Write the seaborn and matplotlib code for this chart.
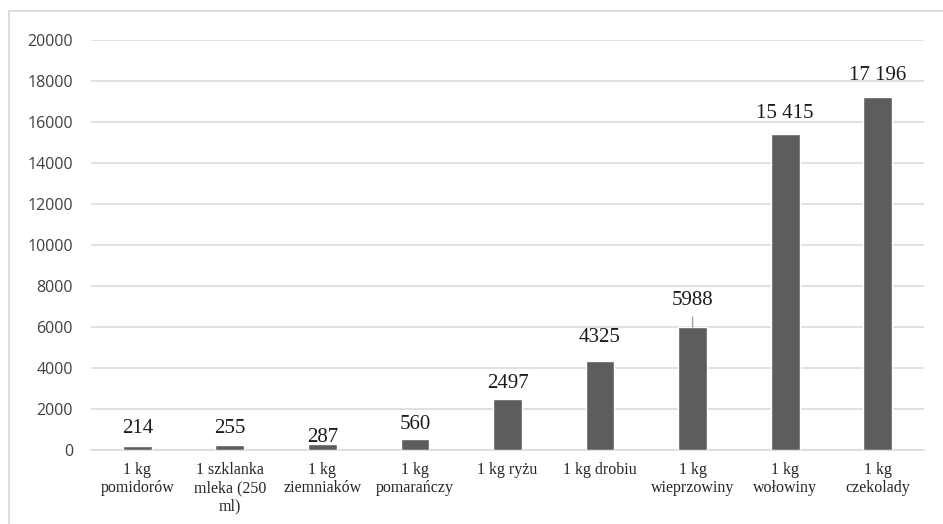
import matplotlib
matplotlib.use("Agg")
import matplotlib.pyplot as plt
from matplotlib.patches import Rectangle
import seaborn as sns
import pandas as pd

# Products (x axis) and their values
products = [
    "1 kg\npomidorów",
    "1 szklanka\nmleka (250\nml)",
    "1 kg\nziemniaków",
    "1 kg\npomarańczy",
    "1 kg ryżu",
    "1 kg drobiu",
    "1 kg\nwieprzowiny",
    "1 kg\nwołowiny",
    "1 kg\nczekolady",
]
values = [214, 255, 287, 560, 2497, 4325, 5988, 15415, 17196]
y_ticks = [0, 2000, 4000, 6000, 8000, 10000, 12000, 14000, 16000, 18000, 20000]

# Vertical gap (pixels) between each bar top and its value label
label_gaps = [13, 12, 2, 10, 11, 19, 22, 16, 17]

df = pd.DataFrame({"product": products, "value": values})

sns.set_theme(style="white")
plt.rcParams["font.family"] = ["DejaVu Sans"]

fig = plt.figure(figsize=(9.43, 5.24), dpi=100)
ax = fig.add_axes([91 / 943, 74 / 524, (924 - 91) / 943, (450 - 40) / 524])

sns.barplot(data=df, x="product", y="value", color="#5d5d5d", saturation=1,
            width=0.31, ax=ax, zorder=3)

ax.set_ylim(0, 20000)
ax.set_yticks(y_ticks)
ax.set_yticklabels([str(t) for t in y_ticks], family="Open Sans",
                   fontsize=11.5, color="#404040")
ax.set_xticks(range(len(products)))
ax.set_xticklabels(products, family="Liberation Serif", fontsize=11.5,
                   color="#262626", linespacing=1.15)
ax.tick_params(axis="y", length=0, pad=13)
ax.tick_params(axis="x", length=0, pad=9)
ax.set_xlabel("")
ax.set_ylabel("")

ax.grid(axis="y", color="#d9d9d9", linewidth=1.1, zorder=0)
ax.grid(axis="x", visible=False)
for side in ["left", "right", "top"]:
    ax.spines[side].set_visible(False)
ax.spines["bottom"].set_color("#d9d9d9")
ax.spines["bottom"].set_linewidth(1.1)


def fmt(v):
    return f"{v:,}".replace(",", " ") if v >= 10000 else str(v)


for i, (v, gap) in enumerate(zip(values, label_gaps)):
    arrow = None
    if v == 5988:
        arrow = dict(arrowstyle="-", color="#a6a6a6", lw=1.0,
                     shrinkA=2.5, shrinkB=0)
    ax.annotate(fmt(v), xy=(i, v), xytext=(0, gap), textcoords="offset pixels",
                ha="center", va="baseline", family="Liberation Serif",
                fontsize=15, color="#1a1a1a", arrowprops=arrow,
                annotation_clip=False)

# Light frame around the chart area
fig.patches.append(Rectangle((9 / 943, -0.1), 1.2, 1.1 - 11 / 524,
                             transform=fig.transFigure, fill=False,
                             edgecolor="#d9d9d9", linewidth=1.3))

fig.savefig("out.png", dpi=100, facecolor="white")
